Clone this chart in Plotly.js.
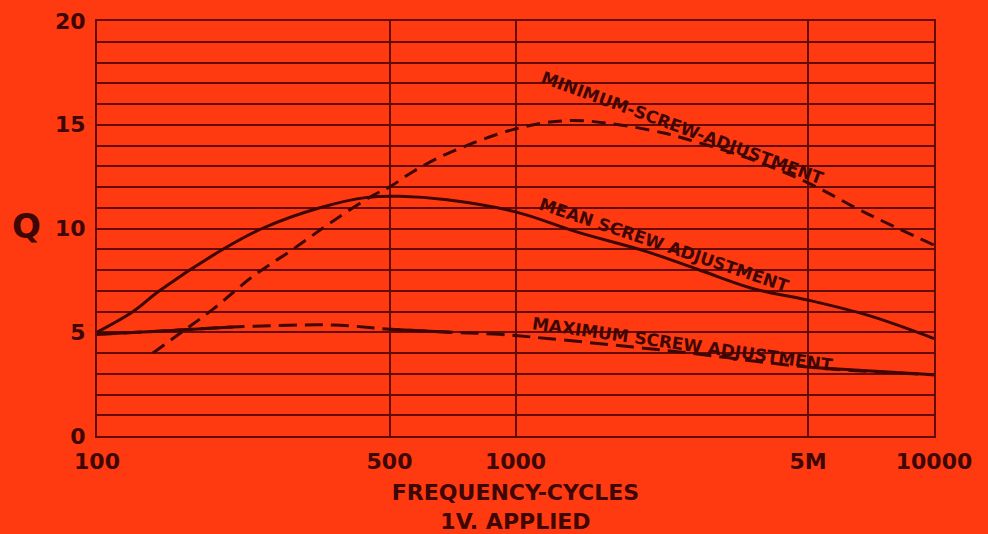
<!DOCTYPE html>
<html>
<head>
<meta charset="utf-8">
<script src="https://cdn.plot.ly/plotly-3.0.1.min.js"></script>
<style>html,body{margin:0;padding:0;background:#ff3a10;}#chart{width:988px;height:534px;}</style>
</head>
<body>
<div id="chart"></div>
<script>
// Data
const minFreq = [136, 158, 189, 236, 294, 366, 457, 500, 570, 686, 1000, 1330, 1700, 2260, 2570, 3580, 5000, 6790, 10000];
const minQ    = [4.0, 4.95, 6.1, 7.7, 9.0, 10.35, 11.6, 12.0, 12.75, 13.6, 14.8, 15.2, 15.05, 14.6, 14.3, 13.4, 12.2, 10.8, 9.2];

const meanFreq = [100, 122, 141, 200, 248, 341, 442, 530, 686, 1000, 1420, 2050, 2750, 3700, 5000, 7000, 10000];
const meanQ    = [5.0, 6.0, 7.0, 9.0, 10.0, 11.0, 11.5, 11.55, 11.38, 10.8, 9.8, 8.9, 8.0, 7.1, 6.55, 5.8, 4.7];

const maxFreq = [100, 140, 211, 366, 500, 700, 916, 1190, 2470, 5140, 10000];
const maxQ    = [4.9, 5.05, 5.25, 5.35, 5.15, 5.0, 4.9, 4.7, 4.05, 3.3, 2.95];

const xTickVals = [100, 500, 1000, 5000, 10000];
const xTickText = ['100', '500', '1000', '5M', '10000'];
const yTickVals = [0, 5, 10, 15, 20];
const yTickText = ['0', '5', '10', '15', '20'];

const labels = {
  min: 'MINIMUM-SCREW-ADJUSTMENT',
  mean: 'MEAN SCREW ADJUSTMENT',
  max: 'MAXIMUM SCREW ADJUSTMENT'
};

const ink = '#3e0604';
const gridInk = '#640b07';
const bg = '#ff3a10';
const fontFam = '"DejaVu Sans", "Liberation Sans", sans-serif';

function seg(xs, ys, lo, hi) {
  const ox = [], oy = [];
  for (let i = 0; i < xs.length; i++) {
    if (xs[i] >= lo && xs[i] <= hi) { ox.push(xs[i]); oy.push(ys[i]); }
  }
  return [ox, oy];
}

const maxSolidA = seg(maxFreq, maxQ, 100, 211);
const maxSolidB = seg(maxFreq, maxQ, 500, 700);
const maxSolidC = seg(maxFreq, maxQ, 5140, 10000);

const traces = [
  {x: minFreq, y: minQ, mode: 'lines', line: {color: ink, width: 3, dash: '14px,8px', shape: 'spline'}, name: 'Minimum'},
  {x: meanFreq, y: meanQ, mode: 'lines', line: {color: ink, width: 3, shape: 'spline'}, name: 'Mean'},
  {x: maxFreq, y: maxQ, mode: 'lines', line: {color: ink, width: 3, dash: '18px,8px', shape: 'spline'}, name: 'Maximum'},
  {x: maxSolidA[0], y: maxSolidA[1], mode: 'lines', line: {color: ink, width: 3, shape: 'spline'}, showlegend: false},
  {x: maxSolidB[0], y: maxSolidB[1], mode: 'lines', line: {color: ink, width: 3, shape: 'spline'}, showlegend: false},
  {x: maxSolidC[0], y: maxSolidC[1], mode: 'lines', line: {color: ink, width: 3, shape: 'spline'}, showlegend: false}
];

const yAll = [], yTxt = [];
for (let v = 0; v <= 20; v++) {
  yAll.push(v);
  const k = yTickVals.indexOf(v);
  yTxt.push(k >= 0 ? yTickText[k] : '');
}

const tickFont = {size: 22, color: ink, family: fontFam, weight: 'bold'};

const layout = {
  width: 988, height: 534,
  paper_bgcolor: bg, plot_bgcolor: bg,
  margin: {l: 97, r: 54, t: 21, b: 98},
  showlegend: false,
  font: {family: fontFam, color: ink},
  xaxis: {
    type: 'log', range: [2, 4],
    tickvals: xTickVals, ticktext: xTickText,
    showgrid: true, gridcolor: gridInk, gridwidth: 2,
    showline: true, linecolor: gridInk, linewidth: 2, mirror: true,
    ticks: '', zeroline: false,
    tickfont: tickFont,
    ticklabelstandoff: 5,
    title: {text: 'FREQUENCY-CYCLES<br>1V. APPLIED', font: {size: 22, color: ink, family: fontFam, weight: 'bold'}, standoff: 14}
  },
  yaxis: {
    range: [0, 20],
    tickvals: yAll, ticktext: yTxt,
    showgrid: true, gridcolor: gridInk, gridwidth: 2,
    showline: true, linecolor: gridInk, linewidth: 2, mirror: true,
    ticks: '', zeroline: false,
    tickfont: tickFont,
    ticklabelstandoff: 5,
    title: {text: ''}
  },
  annotations: [
    {xref: 'paper', yref: 'paper', x: -0.084, y: 0.505, xanchor: 'center', yanchor: 'middle', text: 'Q', showarrow: false,
     font: {size: 34, color: ink, family: fontFam, weight: 'bold'}},
    {xref: 'x', yref: 'y', x: 3.400, y: 14.85, text: labels.min, showarrow: false, textangle: 20,
     font: {size: 17, color: ink, family: fontFam, weight: 'bold'}},
    {xref: 'x', yref: 'y', x: 3.355, y: 9.2, text: labels.mean, showarrow: false, textangle: 18.5,
     font: {size: 17, color: ink, family: fontFam, weight: 'bold'}},
    {xref: 'x', yref: 'y', x: 3.398, y: 4.45, text: labels.max, showarrow: false, textangle: 8,
     font: {size: 17, color: ink, family: fontFam, weight: 'bold'}}
  ]
};

Plotly.newPlot('chart', traces, layout, {displayModeBar: false, staticPlot: true});
</script>
</body>
</html>
